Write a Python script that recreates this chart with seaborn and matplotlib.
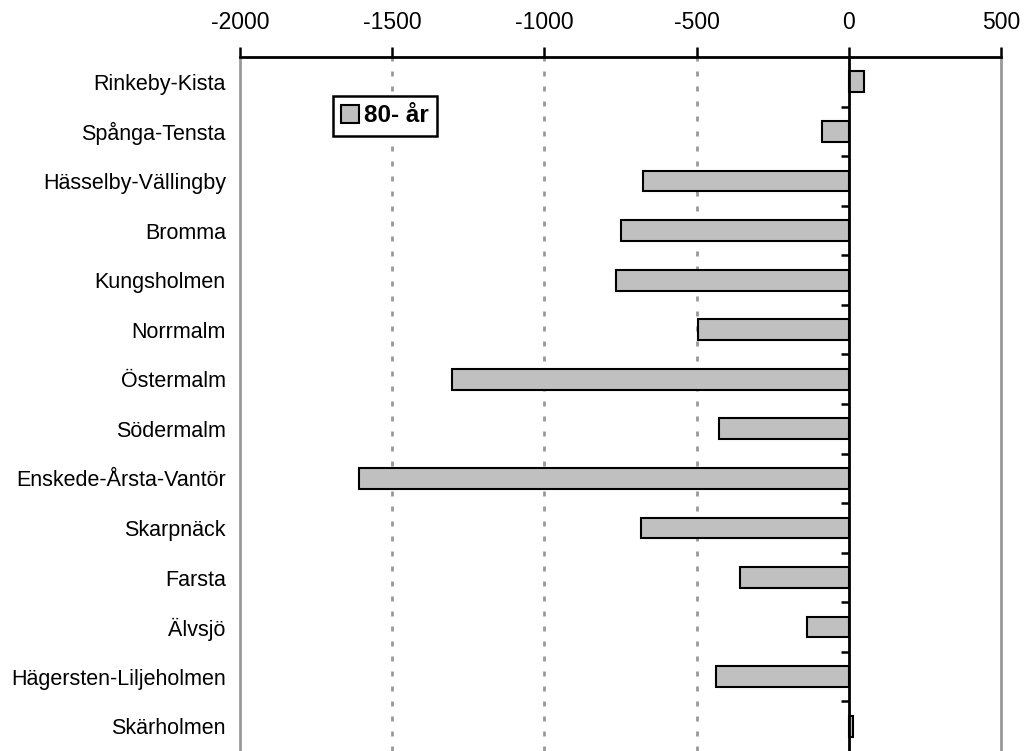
import pandas as pd
import seaborn as sns
from matplotlib import pyplot as plt

# stadsdelar och förändring 80- år
districts = ['Rinkeby-Kista', 'Spånga-Tensta', 'Hässelby-Vällingby', 'Bromma',
             'Kungsholmen', 'Norrmalm', 'Östermalm', 'Södermalm',
             'Enskede-Årsta-Vantör', 'Skarpnäck', 'Farsta', 'Älvsjö',
             'Hägersten-Liljeholmen', 'Skärholmen']
change = [49, -90, -675, -747, -766, -494, -1303, -425, -1609, -684, -357, -139, -437, 12]
series_name = '80- år'
xticks = [-2000, -1500, -1000, -500, 0, 500]

df = pd.DataFrame({'district': districts, 'change': change})

sns.set_style('white')
plt.rcParams['font.family'] = ['Liberation Sans', 'DejaVu Sans']
plt.rcParams['text.color'] = 'black'
plt.rcParams['xtick.labelcolor'] = 'black'
plt.rcParams['ytick.labelcolor'] = 'black'

fig = plt.figure(figsize=(10.29, 7.51), dpi=100)
ax = fig.add_axes([0.233, 0.0, 0.740, 0.924])

sns.barplot(data=df, x='change', y='district', orient='h', color='#c0c0c0',
            saturation=1, edgecolor='black', linewidth=1.5, width=0.42,
            label=series_name, ax=ax)

ax.set_xlim(-2000, 500)
ax.set_ylim(len(districts) - 0.5, -0.5)
ax.set_xticks(xticks)
ax.set_xticklabels([str(t) for t in xticks], fontsize=16.5)
ax.xaxis.tick_top()
ax.tick_params(axis='x', direction='out', length=7, width=1.8, color='black', pad=9.5)
ax.tick_params(axis='y', length=0, labelsize=15.5, pad=10)
ax.set_xlabel('')
ax.set_ylabel('')

# stödlinjer
for t in xticks[1:4]:
    ax.axvline(t, color='#999999', linestyle=(0, (1.8, 3.6)), linewidth=2, zorder=0)
ax.axvline(0, color='black', linewidth=2, zorder=3)

ax.spines['top'].set_color('black')
ax.spines['top'].set_linewidth(2)
for s in ['left', 'right']:
    ax.spines[s].set_color('#999999')
    ax.spines[s].set_linewidth(2)
ax.spines['bottom'].set_visible(False)

# små streck mellan kategorierna vid noll
zero_pos = (0 - xticks[0]) / (xticks[-1] - xticks[0])
sec = ax.secondary_yaxis(zero_pos)
sec.set_yticks([i + 0.5 for i in range(len(districts) - 1)])
sec.set_yticklabels([])
sec.tick_params(axis='y', direction='out', length=6, width=1.8, color='black',
                left=True, right=False)
for s in sec.spines.values():
    s.set_visible(False)

leg = ax.legend(loc='upper left', bbox_to_anchor=(0.122, 0.944), borderaxespad=0,
                fancybox=False, framealpha=1, handlelength=0.72, handleheight=0.72,
                handletextpad=0.2, borderpad=0.35, prop={'weight': 'bold', 'size': 17.5})
leg.get_frame().set_edgecolor('black')
leg.get_frame().set_linewidth(1.8)

plt.savefig('out.png', dpi=100)
